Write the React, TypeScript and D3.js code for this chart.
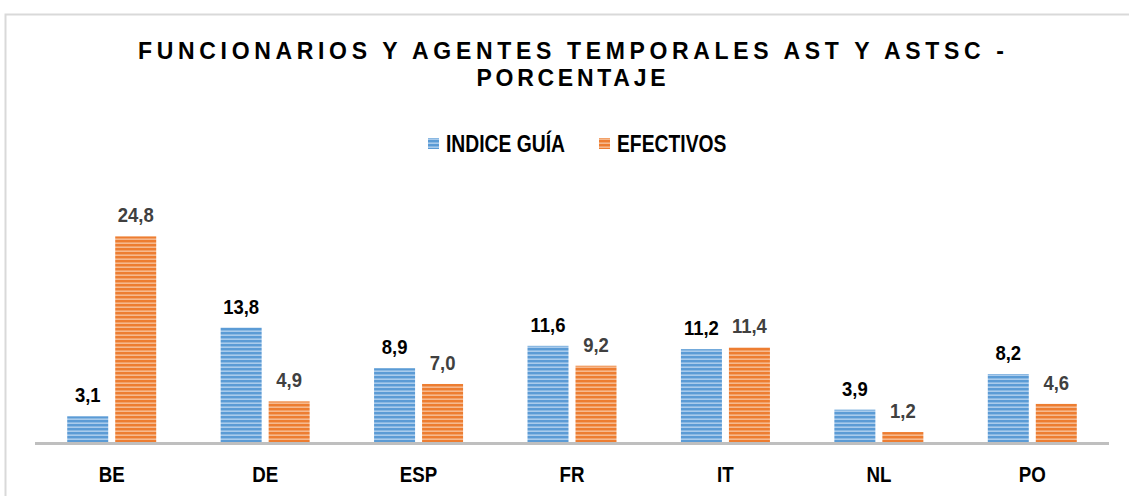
import React from 'react';
import * as d3 from 'd3';

const categories = ['BE', 'DE', 'ESP', 'FR', 'IT', 'NL', 'PO'];
const indiceGuia = [3.1, 13.8, 8.9, 11.6, 11.2, 3.9, 8.2];
const efectivos = [24.8, 4.9, 7.0, 9.2, 11.4, 1.2, 4.6];
const seriesNames = ['INDICE GUÍA', 'EFECTIVOS'];
const titleLines = ['FUNCIONARIOS Y AGENTES TEMPORALES AST Y ASTSC -', 'PORCENTAJE'];

const W = 1129;
const H = 496;
const font = '"Liberation Sans", Arial, sans-serif';

// Arial Narrow stand-in: bold Liberation Sans squeezed horizontally
const NarrowText = ({ x, y, size, sx, anchor = 'start', fill = '#000', children, length }: any) => (
  <text
    transform={`translate(${x},${y}) scale(${sx},1)`}
    textAnchor={anchor}
    fontFamily={font}
    fontWeight="bold"
    fontSize={size}
    fill={fill}
    textLength={length ? length / sx : undefined}
    lengthAdjust={length ? 'spacing' : undefined}
  >
    {children}
  </text>
);

const App = () => {
  const x = d3.scaleBand<string>().domain(categories).range([35, 1109]);
  const y = d3.scaleLinear().domain([0, 30]).range([442, 442 - 30 * 8.29]);
  const barW = 41;
  const gap = 7;
  const fmt = (v: number) => d3.format('.1f')(v).replace('.', ',');

  const series = [
    { name: seriesNames[0], values: indiceGuia, fill: 'url(#stripeBlue)', label: '#000000', offset: -gap / 2 - barW },
    { name: seriesNames[1], values: efectivos, fill: 'url(#stripeOrange)', label: '#404040', offset: gap / 2 },
  ];

  return (
    <svg width={W} height={H} style={{ position: 'absolute', left: 0, top: 0, background: '#fff' }}>
      <defs>
        <pattern id="stripeBlue" width="8" height="4" patternUnits="userSpaceOnUse">
          <rect width="8" height="4" fill="#a9cbec" />
          <rect width="8" height="2.4" fill="#5b9bd5" />
        </pattern>
        <pattern id="stripeOrange" width="8" height="4" patternUnits="userSpaceOnUse">
          <rect width="8" height="4" fill="#f6b98e" />
          <rect width="8" height="2.4" fill="#ed7d31" />
        </pattern>
      </defs>
      <rect x={5.5} y={14.5} width={W + 10} height={H + 10} fill="#fff" stroke="#d9d9d9" strokeWidth={2} />

      {titleLines.map((t, i) => (
        <NarrowText key={t} x={571} y={59 + i * 27} size={23} sx={1} anchor="middle" length={i === 0 ? 866 : 189}>
          {t}
        </NarrowText>
      ))}

      {series.map((s, i) => {
        const lx = i === 0 ? 428 : 599;
        return (
          <g key={s.name}>
            <rect x={lx} y={138} width={11} height={11} fill={s.fill} />
            <NarrowText x={lx + 18} y={152} size={23} sx={0.84}>
              {s.name}
            </NarrowText>
          </g>
        );
      })}

      {series.map((s) => (
        <g key={s.name + 'bars'}>
          {categories.map((c, j) => {
            const cx = (x(c) as number) + x.bandwidth() / 2;
            const bx = cx + s.offset;
            const by = y(s.values[j]);
            return (
              <g key={c}>
                <rect x={bx} y={by} width={barW} height={y(0) - by} fill={s.fill} />
                <NarrowText x={bx + barW / 2} y={by - 14} size={21} sx={0.88} anchor="middle" fill={s.label}>
                  {fmt(s.values[j])}
                </NarrowText>
              </g>
            );
          })}
        </g>
      ))}

      <line x1={35} x2={1109} y1={443.5} y2={443.5} stroke="#bfbfbf" strokeWidth={3} />

      {categories.map((c) => (
        <NarrowText key={c + 'lab'} x={(x(c) as number) + x.bandwidth() / 2} y={482} size={21.5} sx={0.87} anchor="middle">
          {c}
        </NarrowText>
      ))}
    </svg>
  );
};

export default App;
